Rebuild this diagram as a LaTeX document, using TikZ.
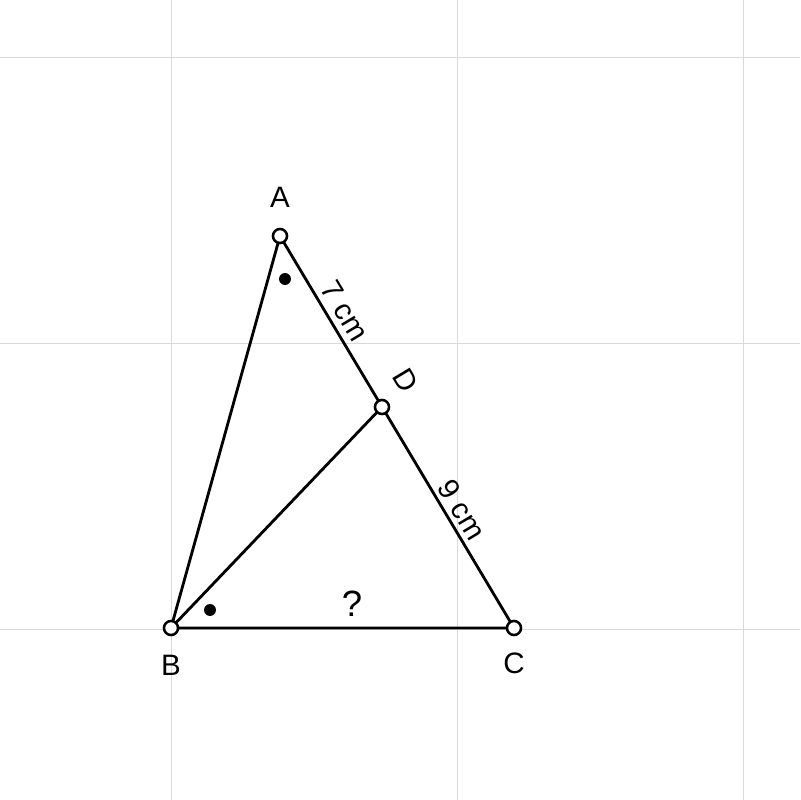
\documentclass[tikz,border=0pt]{standalone}
\usepackage{fontspec}
\setmainfont{Liberation Sans}
\begin{document}
\begin{tikzpicture}[x=0.025cm,y=-0.025cm,
  seg/.style={line width=2pt,black},
  gridline/.style={line width=0.7pt,color=black!15},
  pt/.style={circle,draw=black,fill=white,line width=1.8pt,inner sep=0pt,minimum size=10pt},
  dotm/.style={circle,fill=black,inner sep=0pt,minimum size=8.5pt},
  lbl/.style={font=\fontsize{21}{25}\selectfont,inner sep=0pt}]
\useasboundingbox (0,0) rectangle (800,800);
\fill[white] (0,0) rectangle (800,800);
\foreach \g in {171,457,743} {\draw[gridline] (\g,0) -- (\g,800);}
\foreach \g in {57,343,629} {\draw[gridline] (0,\g) -- (800,\g);}
\coordinate (a) at (280,236);
\coordinate (b) at (171,628);
\coordinate (c) at (514,628);
\coordinate (d) at (382,407);
\draw[seg] (a) -- (b) -- (c) -- cycle;
\draw[seg] (b) -- (d);
\node[pt] (A) at (a) {};
\node[pt] (B) at (b) {};
\node[pt] (C) at (c) {};
\node[pt] (D) at (d) {};
\node[dotm] (m1) at (285,279) {};
\node[dotm] (m2) at (210,610) {};
\node[lbl] (la) at (280,197) {A};
\node[lbl] (lb) at (171,665) {B};
\node[lbl] (lc) at (514,663) {C};
\node[lbl,rotate=-59] (ld) at (406,380) {D};
\node[lbl,rotate=-59] (l7) at (345,311) {7 cm};
\node[lbl,rotate=-59] (l9) at (462,510) {9 cm};
\node[lbl,font=\fontsize{26}{30}\selectfont] (lq) at (352,604) {?};
\end{tikzpicture}
\end{document}
